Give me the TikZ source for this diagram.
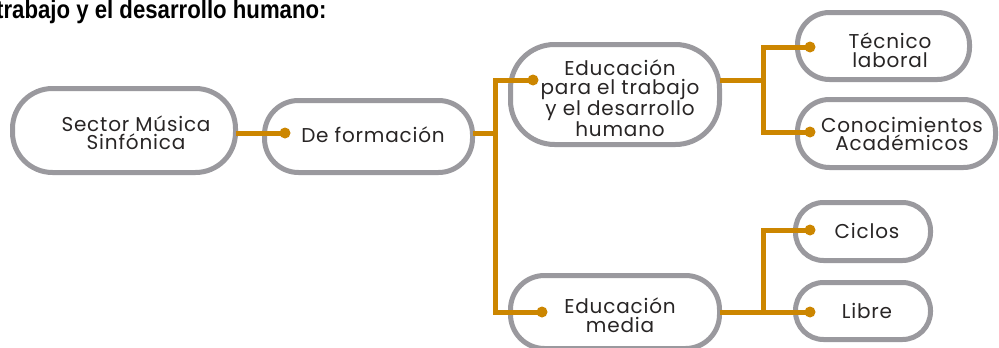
\documentclass[tikz,border=0pt]{standalone}
\usepackage{fontspec}
\usepackage{graphicx}
\setmainfont{Poppins}[LetterSpace=4]
\newfontfamily\titlefont{Liberation Sans}[BoldFont={* Bold}]
\definecolor{boxgray}{RGB}{154,153,158}
\definecolor{linkor}{RGB}{204,134,0}
\definecolor{txtc}{RGB}{40,37,37}
\begin{document}
\begin{tikzpicture}[x=1pt,y=-1pt,
  box/.style={draw=boxgray, line width=5pt, fill=white, rounded corners=#1, inner sep=0pt, outer sep=0pt},
  txt/.style={align=center, text=txtc, inner sep=0pt, font=\fontsize{20}{18.5}\selectfont},
  conn/.style={draw=linkor, line width=5pt},
  dot/.style={fill=linkor}]
\useasboundingbox (0,0) rectangle (999,348);
% title
\node[anchor=base west, inner sep=0pt, text=black] (title) at (-4,19)
  {\scalebox{0.87}[1]{\titlefont\bfseries\fontsize{25.5}{25.5}\selectfont trabajo y el desarrollo humano:}};
% boxes
\node[box=40pt, minimum width=223pt, minimum height=84pt] (sector) at (124,130.5) {};
\node[box=34pt, minimum width=208pt, minimum height=72pt] (form) at (368.5,136.5) {};
\node[box=44pt, minimum width=209pt, minimum height=100pt] (edu1) at (615,94.5) {};
\node[box=32pt, minimum width=172pt, minimum height=67pt] (tec) at (883.5,46) {};
\node[box=32pt, minimum width=198pt, minimum height=68pt] (con) at (896.5,133.5) {};
\node[box=34pt, minimum width=209pt, minimum height=73pt] (edu2) at (615,312) {};
\node[box=28pt, minimum width=135pt, minimum height=58pt] (cic) at (863,231.5) {};
\node[box=28pt, minimum width=135pt, minimum height=57pt] (lib) at (863,311) {};
% texts
\node[txt] (sector-t) at (136,133) {Sector Música\\Sinfónica};
\node[txt] (form-t) at (373,135) {De formación};
\node[txt] (edu1-t) at (620,98) {Educación\\para el trabajo\\y el desarrollo\\humano};
\node[txt] (tec-t) at (890,50.5) {Técnico\\laboral};
\node[txt] (con-t) at (902,134) {Conocimientos\\Académicos};
\node[txt] (edu2-t) at (620,315) {Educación\\media};
\node[txt] (cic-t) at (867,230.5) {Ciclos};
\node[txt] (lib-t) at (867,310.5) {Libre};
% connector points
\coordinate (dA) at (285,133);
\coordinate (dB) at (533,80);
\coordinate (dC) at (542,312);
\coordinate (dD) at (810,47);
\coordinate (dE) at (810,132);
\coordinate (dF) at (810,312);
\coordinate (dG) at (810,230);
\coordinate (t0) at (495,133);
\coordinate (b1) at (763,80);
\coordinate (b2) at (763,312);
% connectors
\draw[conn] (sector.east |- dA) -- (dA);
\draw[conn] (form.east |- t0) -- (t0);
\draw[conn] (dB) -| (t0) |- (dC);
\draw[conn] (edu1.east |- dB) -- (b1);
\draw[conn] (dD) -| (b1) |- (dE);
\draw[conn] (edu2.east |- dF) -- (dF);
\draw[conn] (b2) |- (dG);
% dots
\foreach \p in {dA,dB,dC,dD,dE,dF,dG} \fill[dot] (\p) circle (5.5pt);
\end{tikzpicture}
\end{document}
